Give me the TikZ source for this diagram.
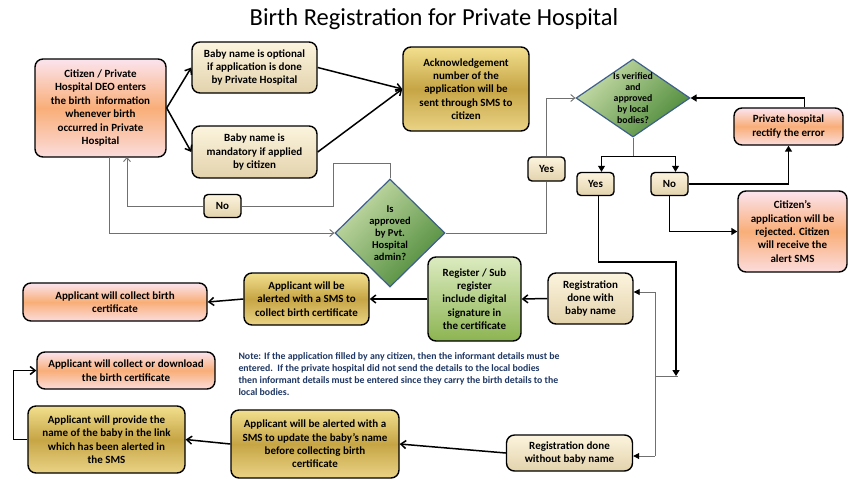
\documentclass[tikz,border=0pt]{standalone}
\usepackage{fontspec}
\setmainfont{Carlito}
\usetikzlibrary{arrows.meta, shapes.geometric, calc}
\definecolor{creamtop}{HTML}{FCF4DE}
\definecolor{creambot}{HTML}{E3D3AC}
\definecolor{goldtop}{HTML}{F2DF8E}
\definecolor{goldmid}{HTML}{C6A545}
\definecolor{goldbot}{HTML}{EAD386}
\definecolor{peachtop}{HTML}{FBE4EE}
\definecolor{peachmid}{HTML}{F9AE78}
\definecolor{peachbot}{HTML}{FBDCDC}
\definecolor{leaftop}{HTML}{DCEBC0}
\definecolor{leafbot}{HTML}{8CB452}
\definecolor{decitop}{HTML}{C9DDAA}
\definecolor{decibot}{HTML}{4C8A38}
\definecolor{decidraw}{HTML}{3F5F8C}
\definecolor{notecol}{HTML}{1F3864}
\definecolor{linegray}{HTML}{707070}

\begin{document}
\begin{tikzpicture}[
    x=1pt, y=-1pt,
    box/.style={draw=black, line width=1.4pt, rounded corners=8pt, align=center,
                inner sep=2pt, font=\bfseries\fontsize{11}{13.4}\selectfont},
    cream/.style={box, top color=creamtop, bottom color=creambot},
    gold/.style={box, top color=goldtop, bottom color=goldbot, middle color=goldmid},
    peach/.style={box, top color=peachtop, bottom color=peachbot, middle color=peachmid},
    leaf/.style={box, top color=leaftop, bottom color=leafbot},
    tag/.style={cream, rounded corners=4pt, minimum width=37pt, minimum height=23pt},
    decision/.style={diamond, draw=decidraw, line width=1.2pt, top color=decitop,
                     bottom color=decibot, shading angle=45, align=center, inner sep=-3pt,
                     font=\bfseries\fontsize{10.5}{12}\selectfont},
    note/.style={anchor=north west, align=left, text=notecol,
                 font=\bfseries\fontsize{9.8}{12}\selectfont},
    conn/.style={-{Straight Barb[length=5pt, width=8pt]}, line width=1.5pt},
    connf/.style={-{Triangle[length=6pt, width=7pt]}, line width=1.5pt},
    fork/.style={-{Triangle[length=6pt, width=7pt]}, line width=1pt},
    thin/.style={-{Straight Barb[length=4pt, width=7pt]}, draw=linegray, line width=0.9pt},
    thinf/.style={-{Triangle[length=6pt, width=6pt, color=black]}, draw=linegray, line width=0.9pt}
  ]

  \path[use as bounding box, fill=white] (0,0) rectangle (864,491);

  % ---- Title ----
  \node[font=\fontsize{24.5}{28}\selectfont] (title) at (434,19)
    {Birth Registration for Private Hospital};

  % ---- Entry and application ----
  \node[peach, minimum width=131pt, minimum height=98pt] (citizen) at (100.5,108)
    {Citizen / Private\\Hospital DEO enters\\the birth\ \ information\\whenever birth\\occurred in Private\\Hospital};
  \node[cream, minimum width=125pt, minimum height=51pt] (optional) at (254.5,67.5)
    {Baby name is optional\\if application is done\\by Private Hospital};
  \node[cream, minimum width=125pt, minimum height=52pt] (mandatory) at (254.5,152)
    {Baby name is\\mandatory if applied\\by citizen};
  \node[gold, minimum width=126pt, minimum height=84pt] (ack) at (466,89)
    {Acknowledgement\\number of the\\application will be\\sent through SMS to\\citizen};

  % ---- Hospital admin check ----
  \node[tag] (noA) at (222.5,206) {No};
  \node[decision, minimum width=110pt, minimum height=108pt] (pvt) at (390,233)
    {Is\\approved\\by Pvt.\\Hospital\\admin?};
  \node[tag, minimum height=24pt] (yesA) at (546.5,169) {Yes};

  % ---- Local bodies check ----
  \node[decision, minimum width=114pt, minimum height=78pt, shape aspect=1.4,
        font=\bfseries\fontsize{9.8}{11}\selectfont] (local) at (633,98)
    {Is verified\\and\\approved\\by local\\bodies?};
  \node[tag] (yesB) at (595.5,184) {Yes};
  \node[tag] (noB) at (669.5,184) {No};
  \node[peach, minimum width=109pt, minimum height=37pt] (rectify) at (788.5,126.5)
    {Private hospital\\rectify the error};
  \node[peach, minimum width=109pt, minimum height=81pt] (reject) at (792.5,231.5)
    {Citizen’s\\application will be\\rejected. Citizen\\will receive the\\alert SMS};

  % ---- Registration with baby name ----
  \node[cream, minimum width=85pt, minimum height=51pt] (regwith) at (590.5,298.5)
    {Registration\\done with\\baby name};
  \node[leaf, minimum width=93pt, minimum height=84pt] (register) at (474.5,299)
    {Register / Sub\\register\\include digital\\signature in\\the certificate};
  \node[gold, minimum width=125pt, minimum height=52pt] (alerted) at (306.5,299)
    {Applicant will be\\alerted with a SMS to\\collect birth certificate};
  \node[peach, minimum width=184pt, minimum height=38pt] (collect) at (115,302)
    {Applicant will collect birth\\certificate};

  % ---- Registration without baby name ----
  \node[note] (remark) at (235,349)
    {Note: If the application filled by any citizen, then the informant details must be\\
     entered.\ \ If the private hospital did not send the details to the local bodies\\
     then informant details must be entered since they carry the birth details to the\\
     local bodies.};
  \node[peach, minimum width=178pt, minimum height=37pt] (download) at (126,370.5)
    {Applicant will collect or download\\the birth certificate};
  \node[gold, minimum width=157pt, minimum height=67pt] (provide) at (106.5,439.5)
    {Applicant will provide the\\name of the baby in the link\\which has been alerted in\\the SMS};
  \node[gold, minimum width=168pt, minimum height=68pt] (update) at (315,444)
    {Applicant will be alerted with a\\SMS to update the baby's name\\before collecting birth\\certificate};
  \node[cream, minimum width=126pt, minimum height=36pt] (without) at (569.5,453)
    {Registration done\\without baby name};

  % ---- Junction points ----
  \coordinate (noturn) at (333,163);
  \coordinate (backin) at (127,157);
  \coordinate (citout) at (109,157);
  \coordinate (split) at (633,156);
  \coordinate (drop) at (676,262);
  \coordinate (tip) at (676,376);
  \coordinate (busT) at (655,292);
  \coordinate (busM) at (655,376);
  \coordinate (busB) at (655,456);

  % ---- Connectors: application ----
  \draw[conn] (citizen.east) -- (optional.west);
  \draw[conn] (citizen.east) -- (mandatory.west);
  \draw[conn] (optional.east) -- (ack.west);
  \draw[conn] (mandatory.east) -- (ack.west);

  % ---- Connectors: admin check ----
  \draw[thin, -] (pvt.north) |- (noturn) |- (noA.east);
  \draw[thin] (noA.west) -| (backin);
  \draw[thin] (citout) |- (pvt.west);
  \draw[thin, -] (pvt.east) -| (yesA.south);
  \draw[thin] (yesA.north) |- (local.west);

  % ---- Connectors: local bodies ----
  \draw[linegray, line width=0.9pt] (local.south) -- (split);
  \draw[fork] (split) -| ($(yesB.north)+(6,0)$);
  \draw[fork] (split) -| ($(noB.north)+(6,0)$);
  \draw[connf] ($(rectify.north)+(16,0)$) |- (local.east);
  \draw[connf] (noB.east) -| (rectify.south);
  \draw[connf] (noB.south) |- (reject.west);
  \draw[connf] ($(yesB.south)+(3,0)$) |- (drop) -- (tip);

  % ---- Connectors: registration bus ----
  \draw[linegray, line width=0.9pt] (busT) -- (busB);
  \draw[linegray, line width=0.9pt] (busM) -- ($(tip)+(2,0)$);
  \draw[thinf] (busT) -- (regwith.east |- busT);
  \draw[thinf] (busB) -- (without.east |- busB);

  % ---- Connectors: certificate ----
  \draw[conn] (regwith.west) -- (register.east);
  \draw[conn] (register.west) -- (alerted.east);
  \draw[conn] (alerted.west) -- (collect.east);
  \draw[conn] (without.west) -- (update.east);
  \draw[conn] (update.west) -- (provide.east);
  \draw[conn] (provide.west) -- ++(-14,0) |- (download.west);

\end{tikzpicture}
\end{document}
